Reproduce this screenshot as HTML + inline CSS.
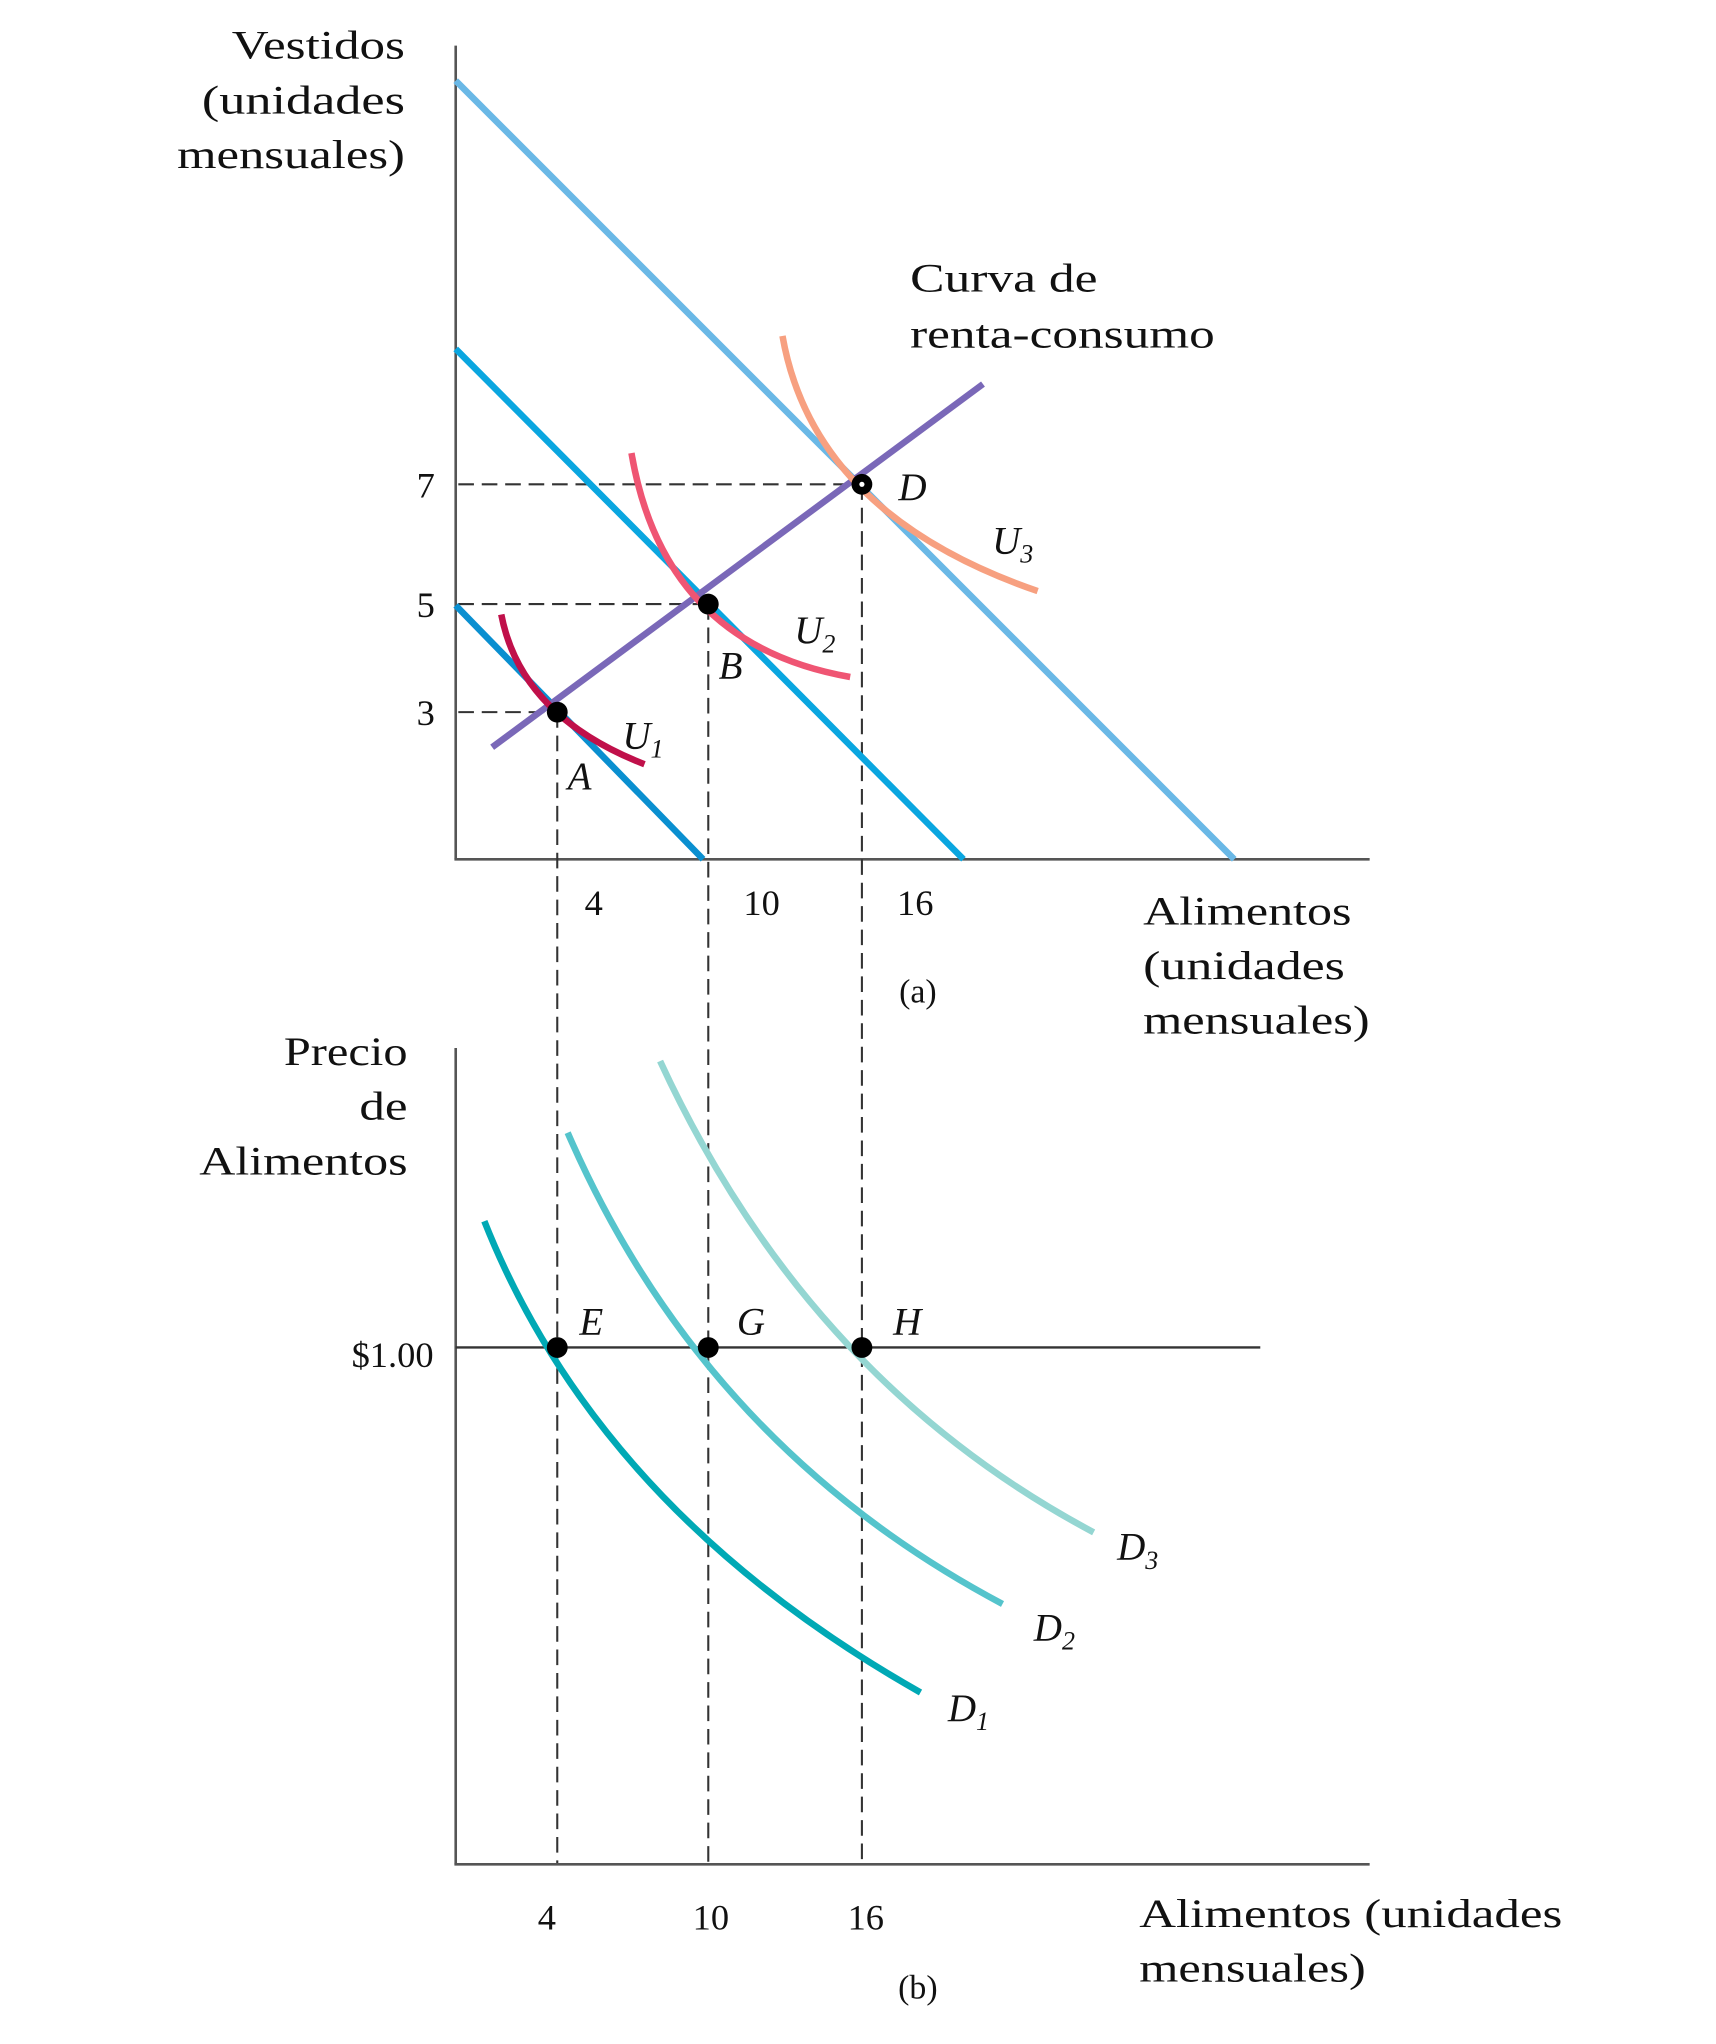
<!DOCTYPE html>
<html><head><meta charset="utf-8"><style>html,body{margin:0;padding:0;background:#fff}svg{display:block}</style></head>
<body>
<svg width="1716" height="2044" viewBox="0 0 1318 1570" xmlns="http://www.w3.org/2000/svg" font-family="'Liberation Serif', serif" fill="#111">
<!-- panel a -->
<line x1="350" y1="35" x2="350" y2="660" stroke="#555" stroke-width="2"/>
<line x1="349" y1="660" x2="1052" y2="660" stroke="#555" stroke-width="2"/>
<g stroke="#333" stroke-width="1.6" stroke-dasharray="12,6" fill="none">
<line x1="352" y1="372" x2="662" y2="372"/>
<line x1="352" y1="464" x2="544" y2="464"/>
<line x1="352" y1="547" x2="428" y2="547"/>
<line x1="428" y1="547" x2="428" y2="1432"/>
<line x1="544" y1="464" x2="544" y2="1432"/>
<line x1="662" y1="372" x2="662" y2="1432"/>
</g>
<line x1="350" y1="62" x2="948" y2="660" stroke="#6ab8e6" stroke-width="5"/>
<line x1="350" y1="268" x2="740" y2="660" stroke="#0aa6e0" stroke-width="5"/>
<line x1="350" y1="465" x2="540" y2="660" stroke="#0a8fd0" stroke-width="5"/>
<line x1="378" y1="574" x2="755" y2="295" stroke="#7a68b8" stroke-width="5"/>
<path d="M385,472 Q400,550 495,587" stroke="#c0104a" stroke-width="5" fill="none"/>
<path d="M485,348 Q510,495 653,520" stroke="#ef5573" stroke-width="5" fill="none"/>
<path d="M601,258 Q625,395 797,454" stroke="#f7a080" stroke-width="5" fill="none"/>
<circle cx="428" cy="547" r="8" fill="#000"/>
<circle cx="544" cy="464" r="8" fill="#000"/>
<circle cx="662" cy="372" r="8" fill="#000"/><circle cx="662" cy="372" r="2" fill="#fff"/>
<g font-size="31" lengthAdjust="spacingAndGlyphs">
<text x="178" y="45" textLength="133" lengthAdjust="spacingAndGlyphs">Vestidos</text>
<text x="155" y="87" textLength="156" lengthAdjust="spacingAndGlyphs">(unidades</text>
<text x="136" y="129" textLength="175" lengthAdjust="spacingAndGlyphs">mensuales)</text>
</g>
<g font-size="28" text-anchor="end">
<text x="334" y="382">7</text><text x="334" y="474">5</text><text x="334" y="557">3</text>
</g>
<g font-size="28" text-anchor="middle">
<text x="456" y="703">4</text><text x="585" y="703">10</text><text x="703" y="703">16</text>
<text x="705" y="770" font-size="26">(a)</text>
</g>
<g font-size="31">
<text x="699" y="224" textLength="144" lengthAdjust="spacingAndGlyphs">Curva de</text>
<text x="699" y="267" textLength="234" lengthAdjust="spacingAndGlyphs">renta-consumo</text>
<text x="878" y="710" textLength="160" lengthAdjust="spacingAndGlyphs">Alimentos</text>
<text x="878" y="752" textLength="155" lengthAdjust="spacingAndGlyphs">(unidades</text>
<text x="878" y="794" textLength="174" lengthAdjust="spacingAndGlyphs">mensuales)</text>
</g>
<g font-size="30" font-style="italic">
<text x="478" y="575">U<tspan font-size="20" dy="7">1</tspan></text>
<text x="436" y="606">A</text>
<text x="610" y="494">U<tspan font-size="20" dy="7">2</tspan></text>
<text x="552" y="521">B</text>
<text x="690" y="384">D</text>
<text x="762" y="425">U<tspan font-size="20" dy="7">3</tspan></text>
</g>
<!-- panel b -->
<line x1="350" y1="805" x2="350" y2="1432" stroke="#555" stroke-width="2"/>
<line x1="349" y1="1432" x2="1052" y2="1432" stroke="#555" stroke-width="2"/>
<line x1="350" y1="1035" x2="968" y2="1035" stroke="#333" stroke-width="1.8"/>
<path d="M372,938 Q460,1160 707,1300" stroke="#00a9b5" stroke-width="5" fill="none"/>
<path d="M436,870 Q540,1110 770,1232" stroke="#55c4cc" stroke-width="5" fill="none"/>
<path d="M507,815 Q620,1060 840,1177" stroke="#94d6d2" stroke-width="5" fill="none"/>
<circle cx="428" cy="1035" r="8" fill="#000"/>
<circle cx="544" cy="1035" r="8" fill="#000"/>
<circle cx="662" cy="1035" r="8" fill="#000"/>
<g font-size="31">
<text x="218" y="818" textLength="95" lengthAdjust="spacingAndGlyphs">Precio</text>
<text x="276" y="860" textLength="37" lengthAdjust="spacingAndGlyphs">de</text>
<text x="153" y="902" textLength="160" lengthAdjust="spacingAndGlyphs">Alimentos</text>
<text x="333" y="1050" font-size="28" text-anchor="end">$1.00</text>
</g>
<g font-size="30" font-style="italic">
<text x="445" y="1025">E</text>
<text x="566" y="1025">G</text>
<text x="686" y="1025">H</text>
<text x="858" y="1198">D<tspan font-size="20" dy="7">3</tspan></text>
<text x="794" y="1260">D<tspan font-size="20" dy="7">2</tspan></text>
<text x="728" y="1322">D<tspan font-size="20" dy="7">1</tspan></text>
</g>
<g font-size="28" text-anchor="middle">
<text x="420" y="1482">4</text><text x="546" y="1482">10</text><text x="665" y="1482">16</text>
<text x="705" y="1535" font-size="26">(b)</text>
</g>
<g font-size="31">
<text x="875" y="1480" textLength="325" lengthAdjust="spacingAndGlyphs">Alimentos (unidades</text>
<text x="875" y="1522" textLength="174" lengthAdjust="spacingAndGlyphs">mensuales)</text>
</g>
</svg>
</body></html>
